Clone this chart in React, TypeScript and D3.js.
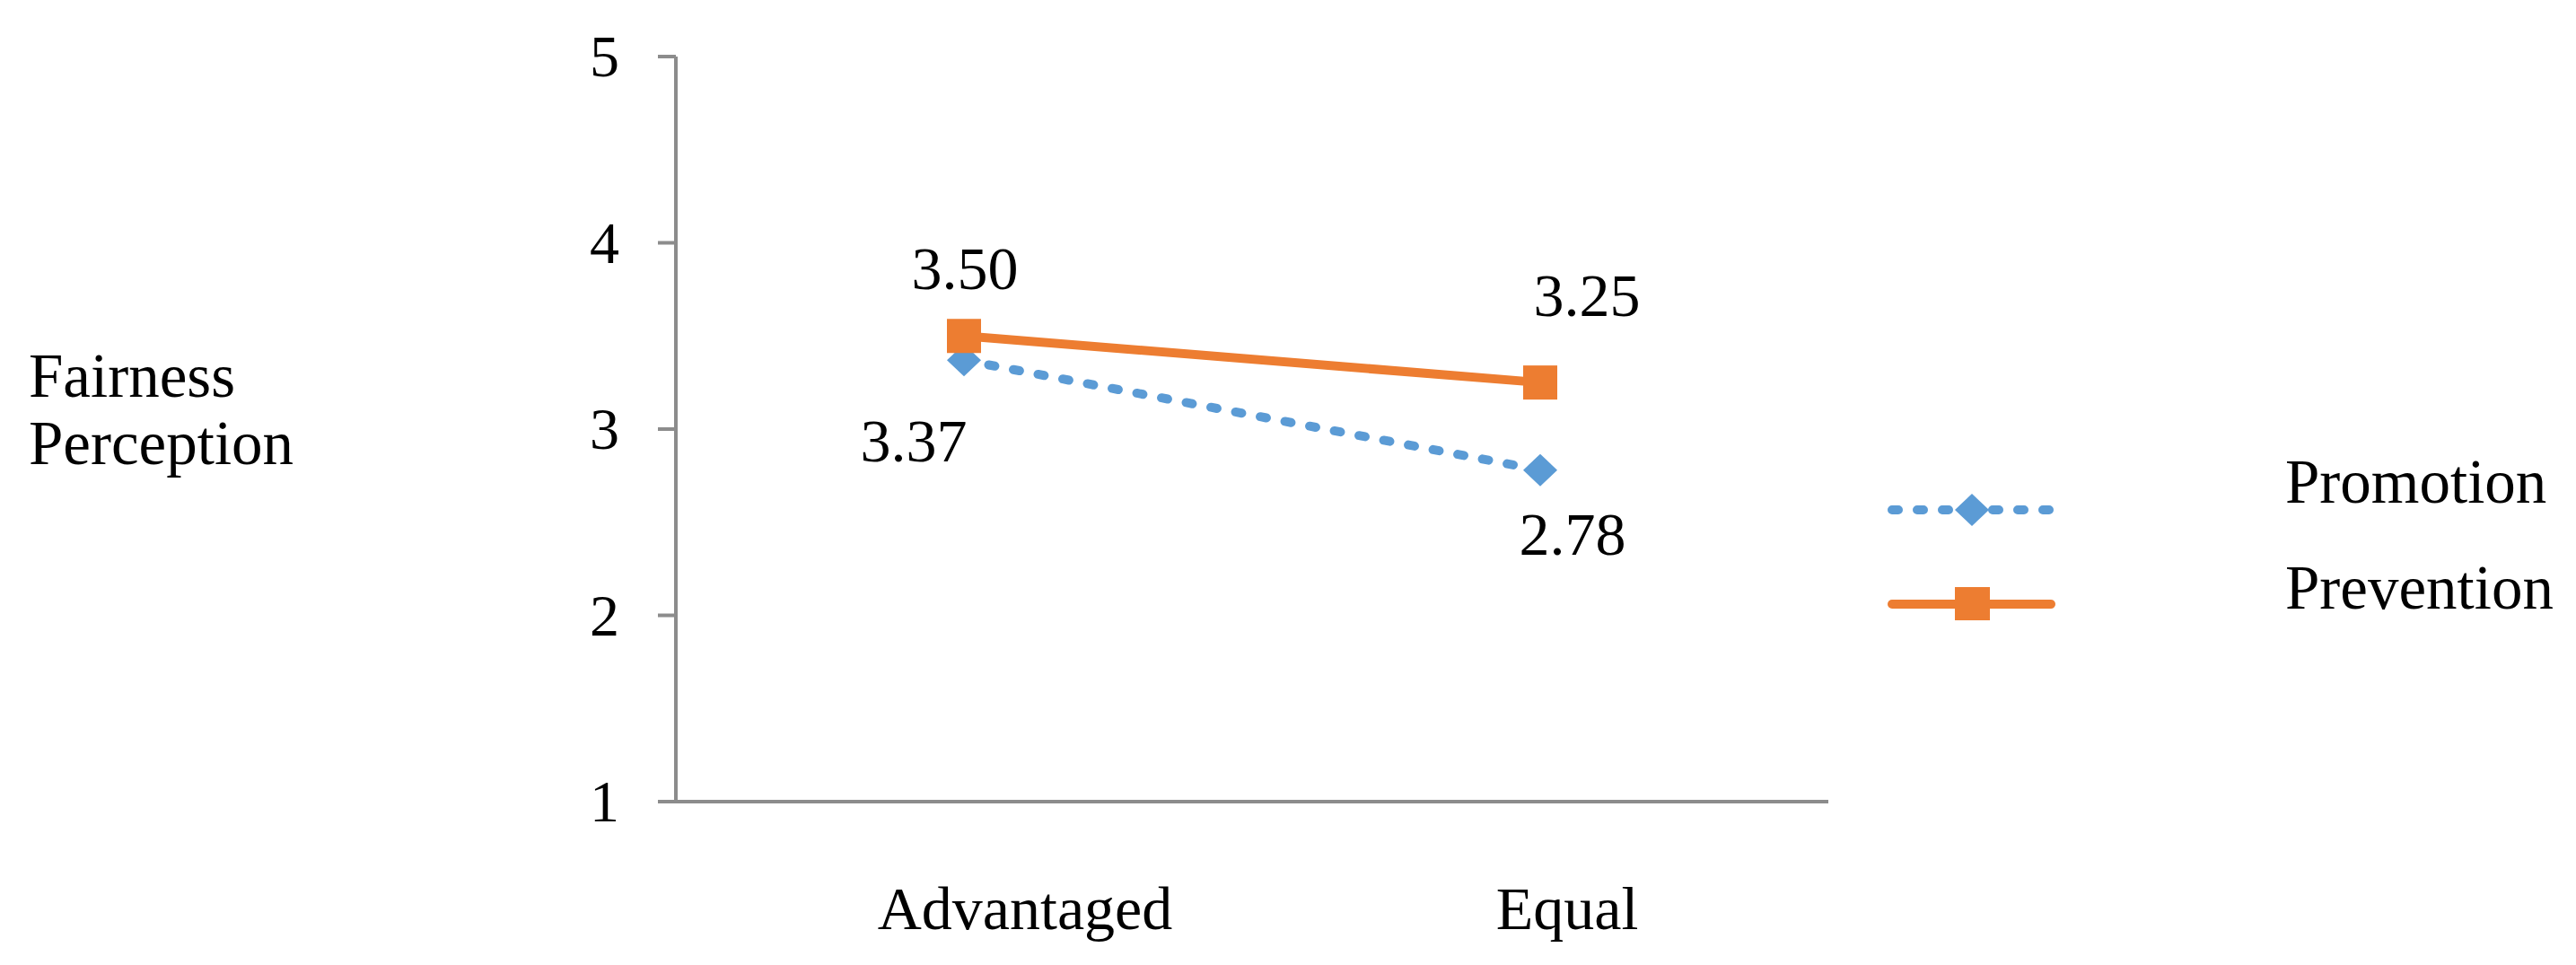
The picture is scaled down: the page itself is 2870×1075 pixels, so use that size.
import React from "react";
import * as d3 from "d3";

// ---- data ----
const categories: string[] = ["Advantaged", "Equal"];
const promotion: number[] = [3.37, 2.78];
const prevention: number[] = [3.5, 3.25];
const seriesNames: string[] = ["Promotion", "Prevention"];
const yTicks: number[] = [1, 2, 3, 4, 5];
const yTitle: string[] = ["Fairness", "Perception"];

// ---- layout ----
const W = 2870;
const H = 1075;
const FONT = "'Liberation Serif', 'Times New Roman', Times, serif";
const BLUE = "#5B9BD5";
const ORANGE = "#ED7D31";
const AXIS = "#8C8C8C";

const x = d3.scaleBand<string>().domain(categories).range([753, 2037]).padding(0);
const y = d3.scaleLinear().domain([1, 5]).range([893, 63]);
const cx = (c: string) => (x(c) as number) + x.bandwidth() / 2;

// label offsets (relative to the data point) per series / category
const promoLabelOff = [
  { dx: -56, dy: 113 },
  { dx: 36, dy: 94 },
];
const prevLabelOff = [
  { dx: 1, dy: -52 },
  { dx: 52, dy: -74 },
];
const catLabelDx = [68, 30];

const diamond = (px: number, py: number, hw = 19, hh = 18) =>
  `M${px},${py - hh}L${px + hw},${py}L${px},${py + hh}L${px - hw},${py}Z`;

export default function App() {
  const line = d3
    .line<number>()
    .x((_, i) => cx(categories[i]))
    .y((v) => y(v));

  const legendX0 = 2108;
  const legendX1 = 2285;
  const legendMid = 2197;
  const legendY = [568, 673];
  const legendTextY = [560, 678];

  return (
    <svg
      width={W}
      height={H}
      viewBox={`0 0 ${W} ${H}`}
      style={{ position: "absolute", left: 0, top: 0, background: "#fff" }}
      fontFamily={FONT}
    >
      <rect x={0} y={0} width={W} height={H} fill="#fff" />

      {/* y axis title */}
      {yTitle.map((t, i) => (
        <text key={t} x={32} y={442 + i * 75} fontSize={69} fill="#000">
          {t}
        </text>
      ))}

      {/* y axis */}
      <line x1={753} x2={753} y1={y(5)} y2={y(1)} stroke={AXIS} strokeWidth={4} />
      {yTicks.map((t) => (
        <g key={t}>
          <line x1={733} x2={753} y1={y(t)} y2={y(t)} stroke={AXIS} strokeWidth={4} />
          <text x={690} y={y(t) + 22} fontSize={66} textAnchor="end" fill="#000">
            {t}
          </text>
        </g>
      ))}

      {/* x axis */}
      <line x1={751} x2={2037} y1={y(1)} y2={y(1)} stroke={AXIS} strokeWidth={4} />
      {categories.map((c, i) => (
        <text
          key={c}
          x={cx(c) + catLabelDx[i]}
          y={1035}
          fontSize={68}
          textAnchor="middle"
          fill="#000"
        >
          {c}
        </text>
      ))}

      {/* Promotion series */}
      <path
        d={line(promotion) || ""}
        fill="none"
        stroke={BLUE}
        strokeWidth={10}
        strokeLinecap="round"
        strokeDasharray="7 21"
      />
      {/* Prevention series */}
      <path d={line(prevention) || ""} fill="none" stroke={ORANGE} strokeWidth={10} />

      {promotion.map((v, i) => (
        <path key={"pd" + i} d={diamond(cx(categories[i]), y(v))} fill={BLUE} />
      ))}
      {prevention.map((v, i) => (
        <rect
          key={"ps" + i}
          x={cx(categories[i]) - 19}
          y={y(v) - 19}
          width={38}
          height={38}
          fill={ORANGE}
        />
      ))}

      {/* data labels */}
      {promotion.map((v, i) => (
        <text
          key={"pl" + i}
          x={cx(categories[i]) + promoLabelOff[i].dx}
          y={y(v) + promoLabelOff[i].dy}
          fontSize={68}
          textAnchor="middle"
          fill="#000"
        >
          {v.toFixed(2)}
        </text>
      ))}
      {prevention.map((v, i) => (
        <text
          key={"vl" + i}
          x={cx(categories[i]) + prevLabelOff[i].dx}
          y={y(v) + prevLabelOff[i].dy}
          fontSize={68}
          textAnchor="middle"
          fill="#000"
        >
          {v.toFixed(2)}
        </text>
      ))}

      {/* legend */}
      <line
        x1={legendX0}
        x2={legendX1}
        y1={legendY[0]}
        y2={legendY[0]}
        stroke={BLUE}
        strokeWidth={10}
        strokeLinecap="round"
        strokeDasharray="7 21"
      />
      <path d={diamond(legendMid, legendY[0])} fill={BLUE} />
      <line
        x1={legendX0}
        x2={legendX1}
        y1={legendY[1]}
        y2={legendY[1]}
        stroke={ORANGE}
        strokeWidth={10}
        strokeLinecap="round"
      />
      <rect x={legendMid - 19} y={legendY[1] - 19} width={39} height={37} fill={ORANGE} />
      {seriesNames.map((s, i) => (
        <text key={s} x={2546} y={legendTextY[i]} fontSize={69} fill="#000">
          {s}
        </text>
      ))}
    </svg>
  );
}
